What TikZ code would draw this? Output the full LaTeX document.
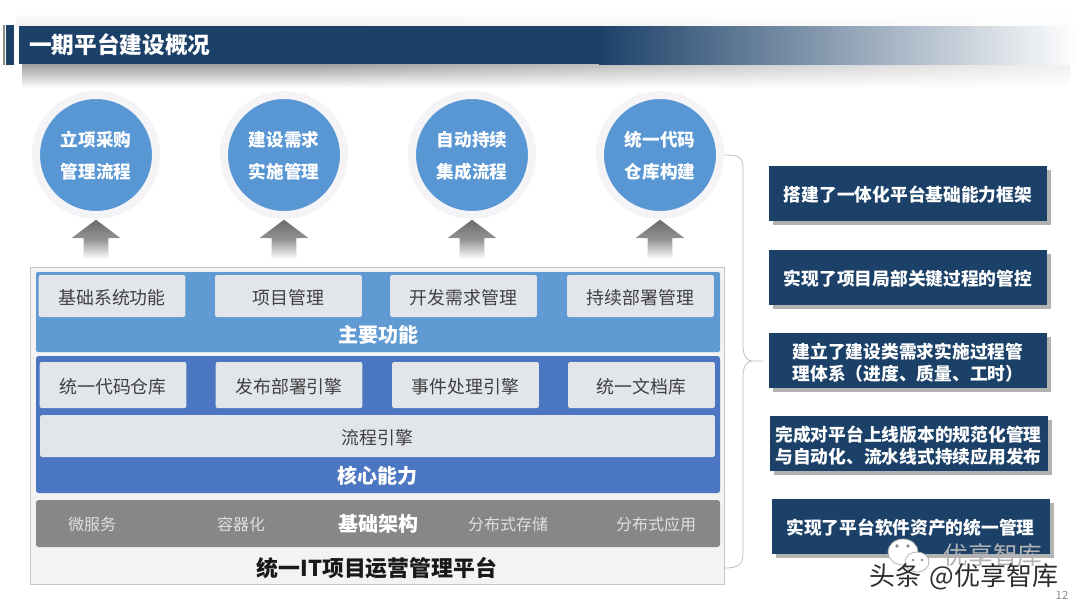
\documentclass[tikz,border=0pt]{standalone}
\usepackage{fontspec}
\setmainfont{Noto Sans CJK SC}
\usetikzlibrary{shapes.arrows,shadows,fadings}
\definecolor{navyblue}{HTML}{1C4169}
\definecolor{circblue}{HTML}{5897D3}
\definecolor{ringgrey}{HTML}{F4F4F6}
\definecolor{funcblue}{HTML}{5F9AD2}
\definecolor{coreblue}{HTML}{4A76C2}
\definecolor{basegrey}{HTML}{878787}
\definecolor{tilegrey}{HTML}{E2E5EA}
\definecolor{panelgrey}{HTML}{F3F3F4}
\tikzset{
  circnode/.style={circle, draw=ringgrey, line width=6pt, fill=circblue, minimum size=90pt, inner sep=0pt,
    text=white, align=center, text height=37.5pt, text depth=2pt, font=\fontsize{13.2}{24}\selectfont\bfseries},
  uparrow/.style={single arrow, shape border rotate=90, minimum width=36pt, minimum height=29.5pt,
    single arrow head extend=9pt, single arrow tip angle=106, inner sep=9pt, top color=black!58, bottom color=white, middle color=black!42},
  tile/.style={fill=tilegrey, rounded corners=1.5pt, minimum width=110pt, inner sep=0pt, text=black!75,
    text height=14pt, text depth=2pt, font=\fontsize{13.4}{16}\selectfont},
  lowtile/.style={tile, minimum height=31.5pt},
  hightile/.style={tile, minimum height=34.5pt},
  bandtitle/.style={text=white, inner sep=0pt, font=\fontsize{15}{18}\selectfont\bfseries},
  basetext/.style={text=black!12, inner sep=0pt, font=\fontsize{12}{15}\selectfont},
  resultbox/.style={fill=navyblue, minimum width=208.5pt, minimum height=41.25pt, inner sep=0pt, text=white, align=center,
    general shadow={fill=black!30, shadow xshift=3pt, shadow yshift=-3pt},
    text height=14pt, text depth=2pt, font=\fontsize{13.3}{16}\selectfont\bfseries},
  tworows/.style={text height=31.5pt, text depth=2pt},
  bracket/.style={draw=black!25, line width=0.6pt}
}
\begin{document}
\begin{tikzpicture}[x=0.75pt, y=-0.75pt]
  \useasboundingbox (0,0) rectangle (1080,608);
  \fill[white] (0,0) rectangle (1080,608);

  \shade[top color=white, bottom color=black!6] (16,12) rectangle (1070,26);
  \shade[top color=black!38, bottom color=white] (22,64) rectangle (1070,88);
  \fill[white, path fading=west] (300,10) rectangle (1200,92);
  \fill[navyblue] (19,26) rectangle (600,64);
  \shade[left color=navyblue, right color=white] (599,26) rectangle (1078,64);
  \fill[black!45] (3,25) rectangle (5,65);
  \fill[navyblue] (6,25) rectangle (14,65);
  \node[anchor=west, inner sep=0pt, text=white, font=\fontsize{17}{20}\selectfont\bfseries] (pagetitle) at (29,45) {一期平台建设概况};

  \node[circnode] (circ1) at (96,155) {立项采购\\管理流程};
  \node[circnode] (circ2) at (284,155) {建设需求\\实施管理};
  \node[circnode] (circ3) at (472,155) {自动持续\\集成流程};
  \node[circnode] (circ4) at (660,155) {统一代码\\仓库构建};

  \node[uparrow] (arrow1) at (96,244) {};
  \node[uparrow] (arrow2) at (284,244) {};
  \node[uparrow] (arrow3) at (472,244) {};
  \node[uparrow] (arrow4) at (660,244) {};

  \node[draw=black!22, line width=0.7pt, fill=panelgrey, minimum width=520.5pt, minimum height=237.75pt, inner sep=0pt] (platform) at (377,425.5) {};
  \node[fill=funcblue, rounded corners=1.5pt, minimum width=513pt, minimum height=60pt, inner sep=0pt] (funcband) at (378,312) {};
  \node[fill=coreblue, rounded corners=2pt, minimum width=513pt, minimum height=102.75pt, inner sep=0pt] (coreband) at (378,424.5) {};
  \node[fill=basegrey, rounded corners=2pt, minimum width=513pt, minimum height=35.25pt, inner sep=0pt] (baseband) at (378,523.5) {};

  \node[lowtile] (func1) at (112,296) {基础系统功能};
  \node[lowtile] (func2) at (288.5,296) {项目管理};
  \node[lowtile] (func3) at (463.5,296) {开发需求管理};
  \node[lowtile] (func4) at (640.5,296) {持续部署管理};
  \node[bandtitle] (functitle) at (378,335) {主要功能};

  \node[hightile] (core1) at (113,385) {统一代码仓库};
  \node[hightile] (core2) at (289,385) {发布部署引擎};
  \node[hightile] (core3) at (465.5,385) {事件处理引擎};
  \node[hightile] (core4) at (641.5,385) {统一文档库};
  \node[tile, minimum width=506pt, minimum height=31.5pt] (engine) at (377.5,436) {流程引擎};
  \node[bandtitle] (coretitle) at (377,476) {核心能力};

  \node[basetext] (base1) at (92,524) {微服务};
  \node[basetext] (base2) at (241,524) {容器化};
  \node[bandtitle] (basetitle) at (378,524) {基础架构};
  \node[basetext] (base3) at (508,524) {分布式存储};
  \node[basetext] (base4) at (656,524) {分布式应用};
  \node[inner sep=0pt, text=black!90, font=\fontsize{16.4}{19}\selectfont\bfseries] (platformtitle) at (377,568) {统一IT项目运营管理平台};

  \coordinate (bracetip) at (763,361);
  \coordinate (braceend) at (725,568);
  \draw[bracket] (circ4.east) .. controls (737,155) and (743,156) .. (743,168) -- (743,346)
    .. controls (743,356) and (747,361) .. (752,361) -- (bracetip) -- (752,361)
    .. controls (747,361) and (743,366) .. (743,376) -- (743,555)
    .. controls (743,565) and (737,568) .. (braceend);

  \node[resultbox] (result1) at (908,193.5) {搭建了一体化平台基础能力框架};
  \node[resultbox] (result2) at (908,277) {实现了项目局部关键过程的管控};
  \node[resultbox, tworows] (result3) at (908,360.5) {建立了建设类需求实施过程管\\理体系（进度、质量、工时）};
  \node[resultbox, tworows] (result4) at (908.5,443.5) {完成对平台上线版本的规范化管理\\与自动化、流水线式持续应用发布};
  \node[resultbox] (result5) at (910.5,526.5) {实现了平台软件资产的统一管理};

  \node[inner sep=0pt, text=black!30, font=\fontsize{18.5}{22}\selectfont] (wmname) at (993,555) {优享智库};
  \draw[black!30, fill=white, line width=0.6pt] (903,552) ellipse [x radius=15, y radius=13];
  \draw[black!30, fill=white, line width=0.6pt] (917,562) ellipse [x radius=12, y radius=10];
  \fill[black!45] (897,546) circle (1.8) (908,546) circle (1.8) (913,560) circle (1.4) (922,560) circle (1.4);
  \node[inner sep=0pt, text=black!82, font=\fontsize{19.5}{22}\selectfont] (wmhead) at (964,577) {头条\hspace{6pt}@优享智库};
  \node[inner sep=0pt, text=black!45, font=\fontsize{8.5}{10}\selectfont] (pagenum) at (1062,595) {12};
\end{tikzpicture}
\end{document}
